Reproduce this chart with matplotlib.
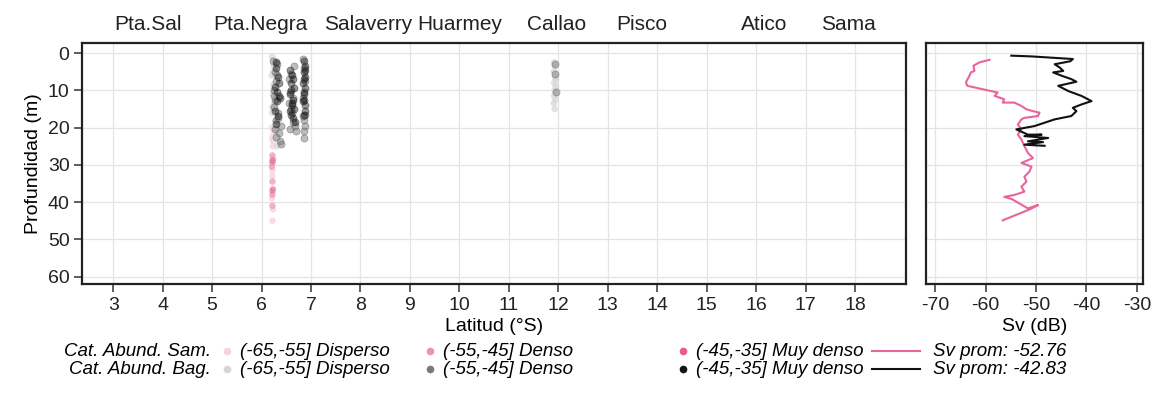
import matplotlib
matplotlib.use("Agg")
import matplotlib.pyplot as plt
from matplotlib.lines import Line2D

plt.rcParams['font.family'] = ['Liberation Sans', 'DejaVu Sans']
plt.rcParams['axes.unicode_minus'] = False

# puertos de referencia
puertos = ["Pta.Sal", "Pta.Negra", "Salaverry", "Huarmey", "Callao", "Pisco", "Atico", "Sama"]
puertos_lat = [3.71, 5.97, 8.15, 10.01, 11.97, 13.69, 16.17, 17.87]

# Sam. (rosado)
sam_dis_lat = [6.21, 6.22, 6.23, 6.22, 6.21, 6.23, 6.22, 6.22]
sam_dis_prof = [20.0, 22.5, 25.0, 33.0, 39.0, 42.0, 45.0, 31.5]
sam_den_lat = [6.22, 6.23, 6.22, 6.21, 6.22, 6.23, 6.22, 6.22]
sam_den_prof = [27.5, 28.5, 29.5, 30.5, 34.5, 36.5, 38.0, 41.0]
sam_muy_lat = [6.22, 6.22]
sam_muy_prof = [29.0, 37.0]

# Bag. (grises)
bag_dis_lat = [6.22, 6.25, 6.21, 6.24, 6.23, 6.26, 6.22, 6.28, 6.25, 6.23, 6.31, 6.30,
               6.24, 6.27, 6.22, 6.29,
               11.92, 11.93, 11.91, 11.94, 11.92, 11.95, 11.93, 11.92, 11.94, 11.91, 11.93, 11.95]
bag_dis_prof = [1.0, 3.5, 6.0, 8.5, 11.0, 13.5, 16.0, 18.5, 21.0, 23.5, 25.0, 2.5,
                5.0, 10.0, 14.5, 20.0,
                2.5, 3.5, 5.0, 6.5, 8.0, 9.0, 10.0, 11.5, 12.5, 13.5, 15.0, 7.0]
bag_den_lat = [6.24, 6.27, 6.29, 6.25, 6.32, 6.28, 6.26, 6.33, 6.30, 6.27, 6.35, 6.29,
               6.37, 6.40, 6.39, 6.55, 6.58, 6.56, 6.61, 6.63, 6.57, 6.68, 6.69, 6.66,
               6.83, 6.86, 6.84, 6.88, 6.85, 6.87, 6.86, 6.85, 11.94, 11.95, 11.93,
               6.31, 6.26, 6.34, 6.59, 6.64, 6.60, 6.87, 6.84]
bag_den_prof = [2.0, 5.0, 7.5, 10.0, 3.0, 12.5, 14.5, 16.0, 18.0, 20.5, 21.5, 22.5,
                23.5, 24.5, 19.5, 7.0, 10.5, 13.5, 16.0, 18.5, 20.5, 19.5, 21.0, 3.5,
                1.5, 4.0, 12.0, 16.5, 18.0, 19.5, 21.0, 22.8, 3.0, 10.5, 5.5,
                6.0, 11.5, 17.5, 5.5, 12.0, 15.0, 7.5, 17.0]
bag_muy_lat = [6.30, 6.33, 6.28, 6.35, 6.31, 6.27, 6.34, 6.36, 6.30, 6.38, 6.58, 6.62,
               6.60, 6.65, 6.57, 6.63, 6.61, 6.66, 6.59, 6.64, 6.62, 6.60, 6.67, 6.85,
               6.87, 6.86, 6.88, 6.84, 6.87, 6.85, 6.86, 6.88, 6.87, 6.85, 6.86, 6.84,
               6.29, 6.32, 6.63, 6.58, 6.86, 6.87]
bag_muy_prof = [4.0, 6.5, 9.0, 11.5, 13.0, 15.5, 17.0, 8.0, 19.0, 12.0, 4.5, 6.0,
                8.0, 9.5, 11.0, 12.5, 14.0, 15.0, 16.5, 17.5, 13.5, 10.0, 18.5, 2.0,
                3.5, 5.0, 6.5, 8.0, 9.5, 11.0, 12.5, 14.0, 15.5, 10.5, 7.0, 13.0,
                2.5, 10.5, 7.0, 15.5, 16.5, 4.5]

# perfiles de Sv
sam_sv_prof = [1.8, 2.5, 3.4, 4.8, 5.2, 6.1, 7.9, 8.8, 10.6, 11.5, 12.4, 13.3, 13.3, 14.2,
               15.1, 15.6, 16.0, 16.9, 17.4, 17.8, 19.2, 20.5, 21.9, 23.2, 25.0, 26.8,
               28.2, 29.5, 30.5, 31.8, 33.2, 34.5, 35.9, 37.2, 38.1, 38.6, 39.2, 41.7,
               40.8, 42.0, 44.9]
sam_sv = [-59.2, -61.2, -62.4, -62.2, -62.9, -63.2, -63.9, -63.6, -57.6, -58.2, -56.3,
          -56.6, -54.3, -52.9, -51.9, -50.6, -49.3, -49.6, -52.3, -52.9, -53.6, -52.9,
          -53.6, -52.9, -52.3, -51.6, -50.6, -52.9, -50.9, -51.3, -52.3, -51.9, -52.9,
          -52.3, -54.3, -56.3, -54.8, -51.6, -49.6, -51.3, -56.6]
bag_sv_prof = [0.7, 0.9, 1.6, 2.2, 3.0, 3.9, 4.8, 5.2, 6.1, 7.0, 7.7, 8.8, 10.2, 11.5,
               12.9, 13.8, 14.7, 15.6, 16.9, 17.8, 18.7, 19.6, 20.1, 20.5, 21.9, 21.9,
               22.3, 22.8, 23.7, 23.9, 24.6, 24.9]
bag_sv = [-54.9, -50.9, -42.7, -43.2, -46.3, -45.3, -44.6, -46.6, -44.9, -43.0, -42.0,
          -45.6, -43.6, -41.0, -39.0, -41.0, -42.7, -42.0, -43.0, -46.3, -48.3, -50.3,
          -52.3, -53.9, -51.6, -48.9, -52.3, -47.6, -51.6, -48.6, -52.3, -48.3]

c_sam = ['#f6d3df', '#ec93b4', '#e65c95']
c_bag = ['#d6d6d6', '#7a7a7a', '#151515']
c_sam_line = '#e8649c'

fig = plt.figure(figsize=(11.51, 4.08), dpi=100)
ax = fig.add_axes([82/1151, 1-284/408, 824/1151, 241/408])
ax2 = fig.add_axes([926/1151, 1-284/408, 217/1151, 241/408])

for a in (ax, ax2):
    a.grid(True, color='#e4e4e4', linewidth=0.9)
    a.set_axisbelow(True)
    for s in a.spines.values():
        s.set_linewidth(1.6)
        s.set_color('#222222')
    a.tick_params(labelsize=14, length=6, width=1.1, pad=3, color='#333333', labelcolor='#222222')

ax.scatter(bag_dis_lat, bag_dis_prof, s=24, color=c_bag[0], alpha=0.7, edgecolors='none')
ax.scatter(sam_dis_lat, sam_dis_prof, s=22, color=c_sam[0], alpha=0.8, edgecolors='none')
ax.scatter(sam_den_lat, sam_den_prof, s=22, color=c_sam[1], alpha=0.7, edgecolors='none')
ax.scatter(sam_muy_lat, sam_muy_prof, s=22, color=c_sam[2], alpha=0.5, edgecolors='none')
ax.scatter(bag_den_lat, bag_den_prof, s=26, color=c_bag[1], alpha=0.5, edgecolors='#555555', linewidths=0.5)
ax.scatter(bag_muy_lat, bag_muy_prof, s=26, color=c_bag[2], alpha=0.45, edgecolors='#111111', linewidths=0.5)

ax.set_xlim(2.37, 19.03)
ax.set_ylim(62, -2.7)
ax.set_xticks(range(3, 19))
ax.set_yticks(range(0, 61, 10))
ax.set_xlabel('Latitud (°S)', fontsize=14, labelpad=3)
ax.set_ylabel('Profundidad (m)', fontsize=14, labelpad=4)

for nombre, lat in zip(puertos, puertos_lat):
    ax.text(lat, 1 + 19/241, nombre, transform=ax.get_xaxis_transform(), ha='center', va='center',
            fontsize=15, color='#222222')

ax2.plot(sam_sv, sam_sv_prof, color=c_sam_line, linewidth=1.5)
ax2.plot(bag_sv, bag_sv_prof, color='#111111', linewidth=1.5)
ax2.set_xlim(-71.8, -28.8)
ax2.set_ylim(62, -2.7)
ax2.set_xticks(range(-70, -29, 10))
ax2.set_yticks(range(0, 61, 10))
ax2.tick_params(axis='y', left=False, labelleft=False)
ax2.set_xlabel('Sv (dB)', fontsize=14, labelpad=3)

# leyenda manual
y1, y2 = 1-351/408, 1-369/408
leg_fs = 13.5
fig.text(211/1151, y1, 'Cat. Abund. Sam.', ha='right', va='center', style='italic', fontsize=leg_fs)
fig.text(211/1151, y2, 'Cat. Abund. Bag.', ha='right', va='center', style='italic', fontsize=leg_fs)
etiquetas = ['(-65,-55] Disperso', '(-55,-45] Denso', '(-45,-35] Muy denso']
mark_x = [227, 430, 683]
for i, et in enumerate(etiquetas):
    for yy, col in ((y1, c_sam[i]), (y2, c_bag[i])):
        fig.add_artist(Line2D([mark_x[i]/1151], [yy], marker='o', markersize=4.5,
                              color=col, linestyle='none', transform=fig.transFigure))
        fig.text((mark_x[i]+13)/1151, yy, et, ha='left', va='center', style='italic', fontsize=leg_fs)
fig.add_artist(Line2D([872/1151, 920/1151], [y1, y1], color=c_sam_line, linewidth=1.5,
                      transform=fig.transFigure))
fig.add_artist(Line2D([872/1151, 920/1151], [y2, y2], color='#111111', linewidth=1.5,
                      transform=fig.transFigure))
fig.text(933/1151, y1, 'Sv prom: -52.76', ha='left', va='center', style='italic', fontsize=leg_fs)
fig.text(933/1151, y2, 'Sv prom: -42.83', ha='left', va='center', style='italic', fontsize=leg_fs)

fig.savefig('out.png', dpi=100)
